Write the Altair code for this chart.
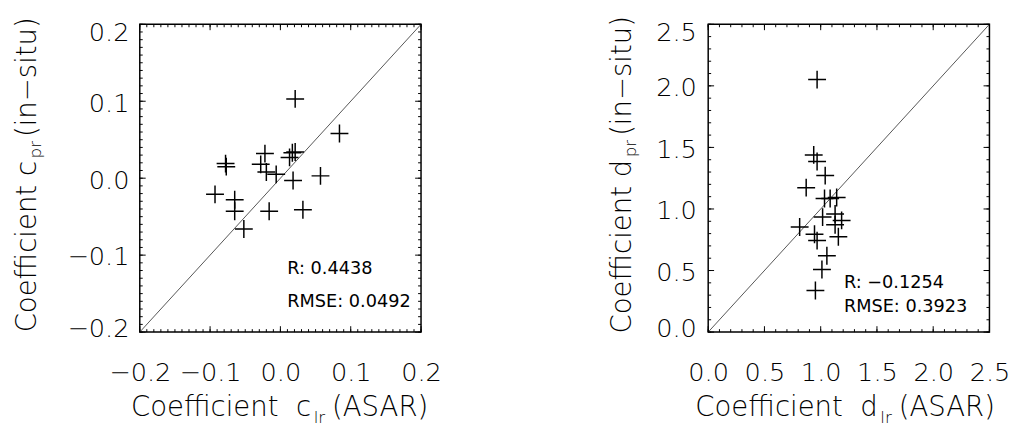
import altair as alt
import pandas as pd

# ---------------- data ----------------
c_asar = [0.021, 0.084, -0.022, 0.017, 0.021, 0.013, -0.078, -0.077, -0.028, -0.020,
          -0.006, 0.018, 0.057, -0.093, -0.065, -0.065, -0.016, 0.032, -0.052]
c_insitu = [0.103, 0.058, 0.032, 0.033, 0.034, 0.027, 0.019, 0.015, 0.018, 0.008,
            0.005, -0.003, 0.003, -0.021, -0.028, -0.043, -0.043, -0.041, -0.066]

d_asar = [0.968, 0.938, 0.968, 1.040, 0.871, 1.034, 1.084, 1.142, 1.128, 1.017,
          1.186, 1.128, 0.813, 0.945, 0.968, 1.157, 1.055, 1.011, 0.953]
d_insitu = [2.051, 1.439, 1.386, 1.271, 1.173, 1.085, 1.085, 1.093, 0.960, 0.934,
            0.907, 0.872, 0.854, 0.795, 0.743, 0.774, 0.620, 0.508, 0.338]

c_major = [-0.2, -0.1, 0.0, 0.1, 0.2]
c_minor = [round(-0.2 + 0.01 * i, 2) for i in range(41)]
d_major = [0.0, 0.5, 1.0, 1.5, 2.0, 2.5]
d_minor = [round(0.1 * i, 1) for i in range(26)]

c_stats = ["R: 0.4438", "RMSE: 0.0492"]
d_stats = ["R: \u22120.1254", "RMSE: 0.3923"]

FONT = "DejaVu Sans"
FW = 200
W, H = 286, 313
TS, SS = 28, 17          # title font, subscript font
LS = 26                  # tick label font

# DejaVu Sans advance widths (em)
ADV = {"C": .698, "o": .612, "e": .615, "f": .352, "i": .278, "c": .550, "n": .634,
       "t": .392, " ": .318, "\u00a0": .318, "d": .635, "p": .635, "r": .411,
       "l": .278, "(": .390, ")": .390, "A": .684, "S": .635, "R": .695, "s": .521,
       "u": .634, "\u2212": .838}


def tw(s, size):
    return sum(ADV.get(ch, 0.6) for ch in s) * size


def txt(s, x, y, size, angle=0, align="left", baseline="alphabetic", weight=FW):
    return alt.Chart(pd.DataFrame({"t": [s]})).mark_text(
        font=FONT, fontSize=size, fontWeight=weight, color="black", align=align,
        baseline=baseline, angle=angle).encode(
        text="t:N", x=alt.value(x), y=alt.value(y))


def panel(xs, ys, dom, major, minor, letter, xsub, ysub, ytail, stats, g):
    xsc = alt.Scale(domain=dom, nice=False, zero=False)
    ysc = alt.Scale(domain=dom, nice=False, zero=False)
    xax = alt.Axis(values=major, format=".1f", title=None, ticks=False, tickSize=0,
                   domain=False, grid=False, labelFont=FONT, labelFontSize=LS,
                   labelFontWeight=FW, labelColor="black", labelPadding=28,
                   labelOverlap=False, labelFlush=False)
    yax = alt.Axis(values=major, format=".1f", title=None, ticks=False, tickSize=0,
                   domain=False, grid=False, labelFont=FONT, labelFontSize=LS,
                   labelFontWeight=FW, labelColor="black", labelPadding=g["lpad"],
                   labelOverlap=False, labelFlush=True, labelFlushOffset=7,
                   labelOffset=2)
    df = pd.DataFrame({"x": xs, "y": ys})

    diag = alt.Chart(pd.DataFrame({"x": dom, "y": dom})).mark_line(
        color="#555555", strokeWidth=1, clip=True).encode(
        x=alt.X("x:Q", scale=xsc, axis=xax), y=alt.Y("y:Q", scale=ysc, axis=yax))

    pts = alt.Chart(df).mark_point(
        shape="M-1,0L1,0M0,-1L0,1", size=330, filled=False, stroke="black",
        strokeWidth=1.5, opacity=1).encode(
        x=alt.X("x:Q", scale=xsc, axis=xax), y=alt.Y("y:Q", scale=ysc, axis=yax))

    layers = [diag]
    for vals, ln in ((minor, 3), (major, 6)):
        tdf = pd.DataFrame({"x": vals, "y": vals})
        xt = alt.X("x:Q", scale=xsc, axis=xax)
        yt = alt.Y("y:Q", scale=ysc, axis=yax)
        layers += [
            alt.Chart(tdf).mark_rule(color="black", strokeWidth=1).encode(
                x=xt, y=alt.value(H), y2=alt.value(H - ln)),
            alt.Chart(tdf).mark_rule(color="black", strokeWidth=1).encode(
                x=xt, y=alt.value(0), y2=alt.value(ln)),
            alt.Chart(tdf).mark_rule(color="black", strokeWidth=1).encode(
                y=yt, x=alt.value(0), x2=alt.value(ln)),
            alt.Chart(tdf).mark_rule(color="black", strokeWidth=1).encode(
                y=yt, x=alt.value(W), x2=alt.value(W - ln)),
        ]
    layers.append(pts)

    # statistics
    layers.append(txt(stats[0], g["sx"], g["ry"], 18, baseline="middle", weight="normal"))
    layers.append(txt(stats[1], g["sx"], g["my"], 18, baseline="middle", weight="normal"))

    # x title: "Coefficient  c" + subscript + " (ASAR)"
    a = "Coefficient \u00a0" + letter
    wa, wsub, wc = tw(a, TS), tw(xsub, SS), tw("(ASAR)", TS)
    tot = wa + 2 + wsub + 7 + wc
    x0 = g["xc"] - tot / 2
    layers.append(txt(a, x0, g["xb"], TS))
    layers.append(txt(xsub, x0 + wa + 2, g["xb"] + 7, SS))
    layers.append(txt("(ASAR)", x0 + wa + 2 + wsub + 7, g["xb"], TS))

    # y title (rotated)
    ay = "Coefficient " + letter
    way, wsub2, wt = tw(ay, TS), tw(ysub, SS), tw(ytail, TS)
    tot = way + 2 + wsub2 + 4 + wt
    y0 = g["yc"] + tot / 2
    layers.append(txt(ay, g["yb"], y0, TS, angle=270))
    layers.append(txt(ysub, g["yb"] + 6, y0 - way - 2, SS, angle=270))
    layers.append(txt(ytail, g["yb"], y0 - way - 2 - wsub2 - 4, TS, angle=270))

    return alt.layer(*layers).properties(width=W, height=H)


left = panel(c_asar, c_insitu, [-0.2, 0.2], c_major, c_minor, "c", "lr", "pr",
             "(in\u2212situ)", c_stats,
             dict(lpad=11, sx=150, ry=249, my=282, xc=142, xb=398, yc=153, yb=-106))
right = panel(d_asar, d_insitu, [0.0, 2.5], d_major, d_minor, "d", "lr", "pr",
              "(in\u2212situ)", d_stats,
              dict(lpad=12, sx=138, ry=263, my=288, xc=139, xb=398, yc=153, yb=-79))

chart = alt.hconcat(left, right, spacing=168).properties(
    padding={"left": 5, "top": 3, "right": 5, "bottom": 0},
    background="white",
).configure_view(stroke="black", strokeWidth=1.5)

chart.save("out.html", embed_options={"renderer": "svg", "actions": False})
